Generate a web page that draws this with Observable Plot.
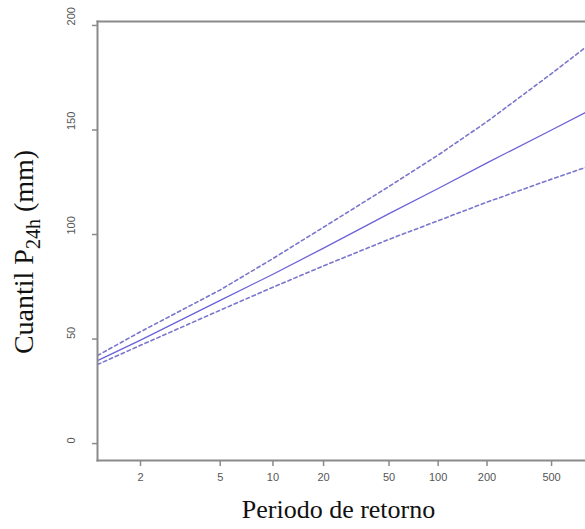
<!DOCTYPE html>
<html><head><meta charset="utf-8">
<script src="https://cdn.jsdelivr.net/npm/d3@7"></script>
<script src="https://cdn.jsdelivr.net/npm/@observablehq/plot@0.6"></script>
<style>body{margin:0;background:#fff}#chart{width:585px;height:529px}</style>
</head><body><div id="chart"></div>
<script>
// Return period (years) and quantile P24h (mm)
const returnPeriod = [1.386, 2, 5, 10, 20, 50, 100, 200, 500, 810];
const quantile     = [39.7, 49.5, 68.5, 81.0, 93.5, 110.0, 122.0, 134.3, 150.0, 158.4];
const upperBound   = [42.1, 53.5, 73.5, 88.5, 103.5, 123.0, 138.0, 154.0, 177.0, 189.5];
const lowerBound   = [37.8, 47.0, 63.8, 74.8, 85.0, 97.7, 106.6, 115.5, 126.5, 132.1];
const xTicks = [2, 5, 10, 20, 50, 100, 200, 500];
const yTicks = [0, 50, 100, 150, 200];

const series = [
  {name: "central", values: quantile},
  {name: "upper", values: upperBound},
  {name: "lower", values: lowerBound}
];
const rows = series.flatMap(s => returnPeriod.map((T, i) => ({T, q: s.values[i], s: s.name})));

// Gumbel reduced variate scale for the return period
const gumbel = T => -Math.log(-Math.log(1 - 1 / T));

const axisColor = "#8a8a8a";
const lineColor = "#6a62d8";
const dashColor = "#7a76cc";
const sans = "Liberation Sans, Arial, sans-serif";
const serif = "Liberation Serif, Times New Roman, serif";

const chart = Plot.plot({
  width: 585, height: 529,
  marginLeft: 97, marginRight: 0, marginTop: 21, marginBottom: 69,
  style: {background: "#fff", fontFamily: sans},
  x: {transform: gumbel, domain: [gumbel(returnPeriod[0]), gumbel(returnPeriod[returnPeriod.length - 1])]},
  y: {domain: [-8.1, 201.9]},
  marks: [
    Plot.line(rows.filter(d => d.s === "upper"), {x: "T", y: "q", stroke: dashColor, strokeWidth: 1.6, strokeDasharray: "3.5,3", clip: true}),
    Plot.line(rows.filter(d => d.s === "lower"), {x: "T", y: "q", stroke: dashColor, strokeWidth: 1.6, strokeDasharray: "3.5,3", clip: true}),
    Plot.line(rows.filter(d => d.s === "central"), {x: "T", y: "q", stroke: lineColor, strokeWidth: 1.3, clip: true}),
    Plot.frame({anchor: "left", stroke: axisColor, strokeWidth: 2}),
    Plot.frame({anchor: "top", stroke: axisColor, strokeWidth: 2}),
    Plot.frame({anchor: "bottom", stroke: axisColor, strokeWidth: 2}),
    Plot.axisX(xTicks, {tickFormat: d => String(d), tickSize: 6, tickPadding: 7, fontSize: 11, stroke: axisColor, fill: "#555", label: null, strokeWidth: 1.5}),
    Plot.axisY(yTicks, {tickFormat: () => "", tickSize: 5, stroke: axisColor, label: null, strokeWidth: 1.5}),
    Plot.text(yTicks, {y: d => d, text: d => String(d), frameAnchor: "left", dx: -26, rotate: -90, fontSize: 11, fill: "#555"}),
    Plot.text(["Periodo de retorno"], {frameAnchor: "bottom", dx: -3, dy: 57, fontSize: 26, fontFamily: serif, fill: "#111"})
  ]
});

const svg = d3.select(chart);
const t = svg.append("text")
  .attr("transform", "translate(33,252) rotate(-90)")
  .attr("text-anchor", "middle")
  .attr("font-family", serif)
  .attr("font-size", 28)
  .attr("fill", "#111");
t.append("tspan").text("Cuantil P");
t.append("tspan").attr("font-size", 20).attr("dy", 7).text("24h");
t.append("tspan").attr("dy", -7).text(" (mm)");

document.getElementById("chart").appendChild(chart);
</script>
</body></html>
